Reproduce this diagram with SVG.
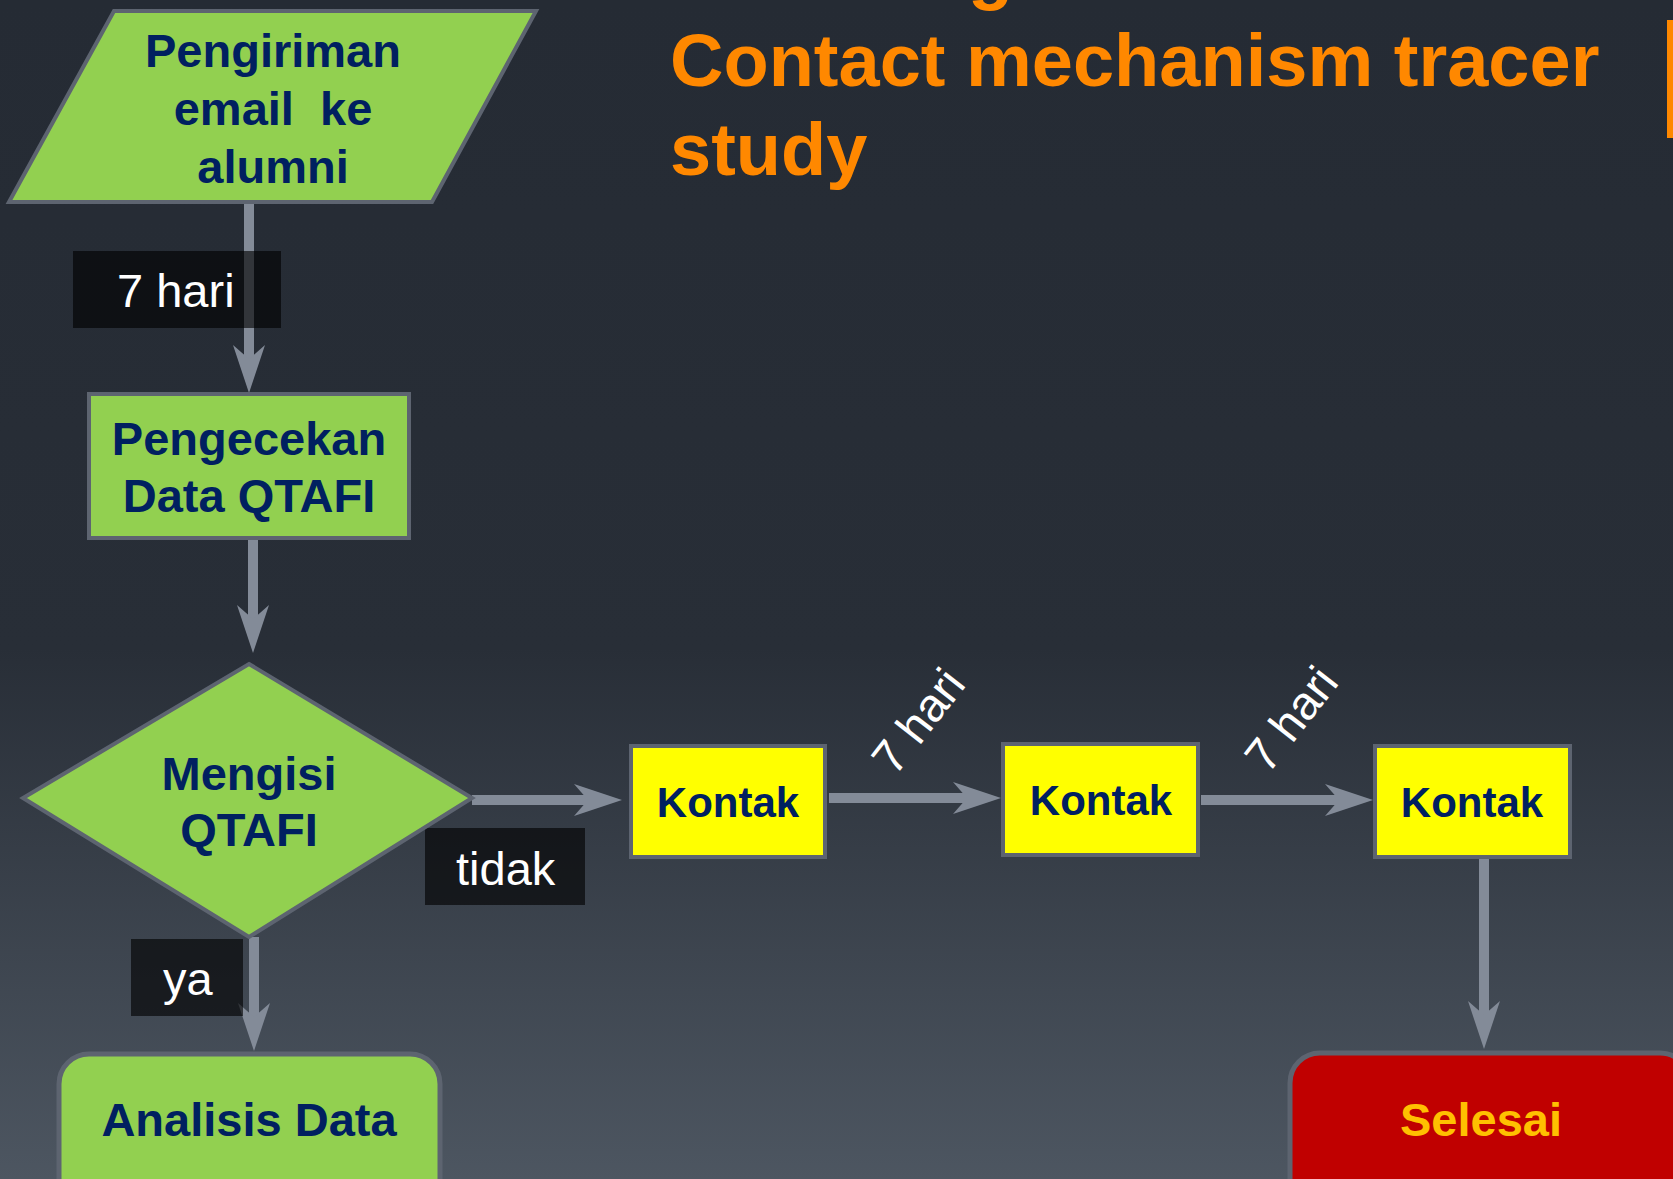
<svg xmlns="http://www.w3.org/2000/svg" width="1673" height="1179" viewBox="0 0 1673 1179">
<defs>
<linearGradient id="bg" x1="0" y1="0" x2="0" y2="1">
<stop offset="0" stop-color="#252b34"/>
<stop offset="0.55" stop-color="#282e37"/>
<stop offset="1" stop-color="#4d5661"/>
</linearGradient>
<marker id="ah" viewBox="0 0 50 32" refX="18" refY="16" markerWidth="50" markerHeight="32" markerUnits="userSpaceOnUse" orient="auto">
<path d="M48,16 L0,0 L14,16 L0,32 Z" fill="#838b98"/>
</marker>
<style>
.con{stroke:#838b98;stroke-width:10;fill:none}
.nd{stroke:#5d6470;stroke-width:4}
.green{fill:#92d050}
.yel{fill:#ffff00}
.bt{font-family:"Liberation Sans",Arial,sans-serif;font-weight:bold;font-size:47px;fill:#002060;text-anchor:middle}
.lt{font-family:"Liberation Sans",Arial,sans-serif;font-size:47px;fill:#ffffff}
.lb{fill:#000000;fill-opacity:0.62}
.title{font-family:"Liberation Sans",Arial,sans-serif;font-weight:bold;font-size:74px;fill:#ff8800}
</style>
</defs>
<rect x="0" y="0" width="1673" height="1179" fill="url(#bg)"/>
<g id="title">
<text class="title" x="968" y="-4">g</text>
<text class="title" x="670" y="86">Contact mechanism tracer</text>
<text class="title" x="670" y="175">study</text>
<rect x="1667" y="20" width="6" height="118" fill="#ff8800"/>
</g>
<g id="connectors">
<line class="con" x1="249" y1="202" x2="249" y2="363" marker-end="url(#ah)"/>
<line class="con" x1="253" y1="538" x2="253" y2="623" marker-end="url(#ah)"/>
<line class="con" x1="472" y1="800" x2="592" y2="800" marker-end="url(#ah)"/>
<line class="con" x1="829" y1="798" x2="971" y2="798" marker-end="url(#ah)"/>
<line class="con" x1="1201" y1="800" x2="1343" y2="800" marker-end="url(#ah)"/>
<line class="con" x1="1484" y1="857" x2="1484" y2="1019" marker-end="url(#ah)"/>
<line class="con" x1="254" y1="937" x2="254" y2="1021" marker-end="url(#ah)"/>
</g>
<g id="labels">
<g id="label-7hari-1"><rect class="lb" x="73" y="251" width="208" height="77"/><text class="lt" x="117" y="307">7 hari</text></g>
<g id="label-tidak"><rect class="lb" x="425" y="828" width="160" height="77"/><text class="lt" x="456" y="885">tidak</text></g>
<g id="label-ya"><rect class="lb" x="131" y="939" width="112" height="77"/><text class="lt" x="163" y="995">ya</text></g>
<g id="label-7hari-2"><text class="lt" text-anchor="middle" transform="translate(931,731) rotate(-52)">7 hari</text></g>
<g id="label-7hari-3"><text class="lt" text-anchor="middle" transform="translate(1304,729) rotate(-52)">7 hari</text></g>
</g>
<g id="node-pengiriman">
<polygon class="nd green" points="114,11 536,11 432,202 9,202"/>
<text class="bt" x="273" y="67">Pengiriman</text>
<text class="bt" x="273" y="125" xml:space="preserve">email  ke</text>
<text class="bt" x="273" y="183">alumni</text>
</g>
<g id="node-pengecekan">
<rect class="nd green" x="89" y="394" width="320" height="144"/>
<text class="bt" x="249" y="455">Pengecekan</text>
<text class="bt" x="249" y="512">Data QTAFI</text>
</g>
<g id="node-mengisi">
<polygon class="nd green" points="249,664 472,798 249,937 23,798"/>
<text class="bt" x="249" y="790">Mengisi</text>
<text class="bt" x="249" y="846">QTAFI</text>
</g>
<g id="node-kontak1">
<rect class="nd yel" x="631" y="746" width="194" height="111"/>
<text class="bt" x="728" y="817" style="font-size:42px">Kontak</text>
</g>
<g id="node-kontak2">
<rect class="nd yel" x="1003" y="744" width="195" height="111"/>
<text class="bt" x="1101" y="815" style="font-size:42px">Kontak</text>
</g>
<g id="node-kontak3">
<rect class="nd yel" x="1375" y="746" width="195" height="111"/>
<text class="bt" x="1472" y="817" style="font-size:42px">Kontak</text>
</g>
<g id="node-analisis">
<rect class="nd green" x="59" y="1054" width="381" height="170" rx="30" style="stroke-width:5"/>
<text class="bt" x="249" y="1136">Analisis Data</text>
</g>
<g id="node-selesai">
<rect class="nd" x="1290" y="1053" width="400" height="170" rx="30" fill="#c00000" style="stroke-width:5"/>
<text class="bt" x="1481" y="1136" style="fill:#ffc000">Selesai</text>
</g>
</svg>
